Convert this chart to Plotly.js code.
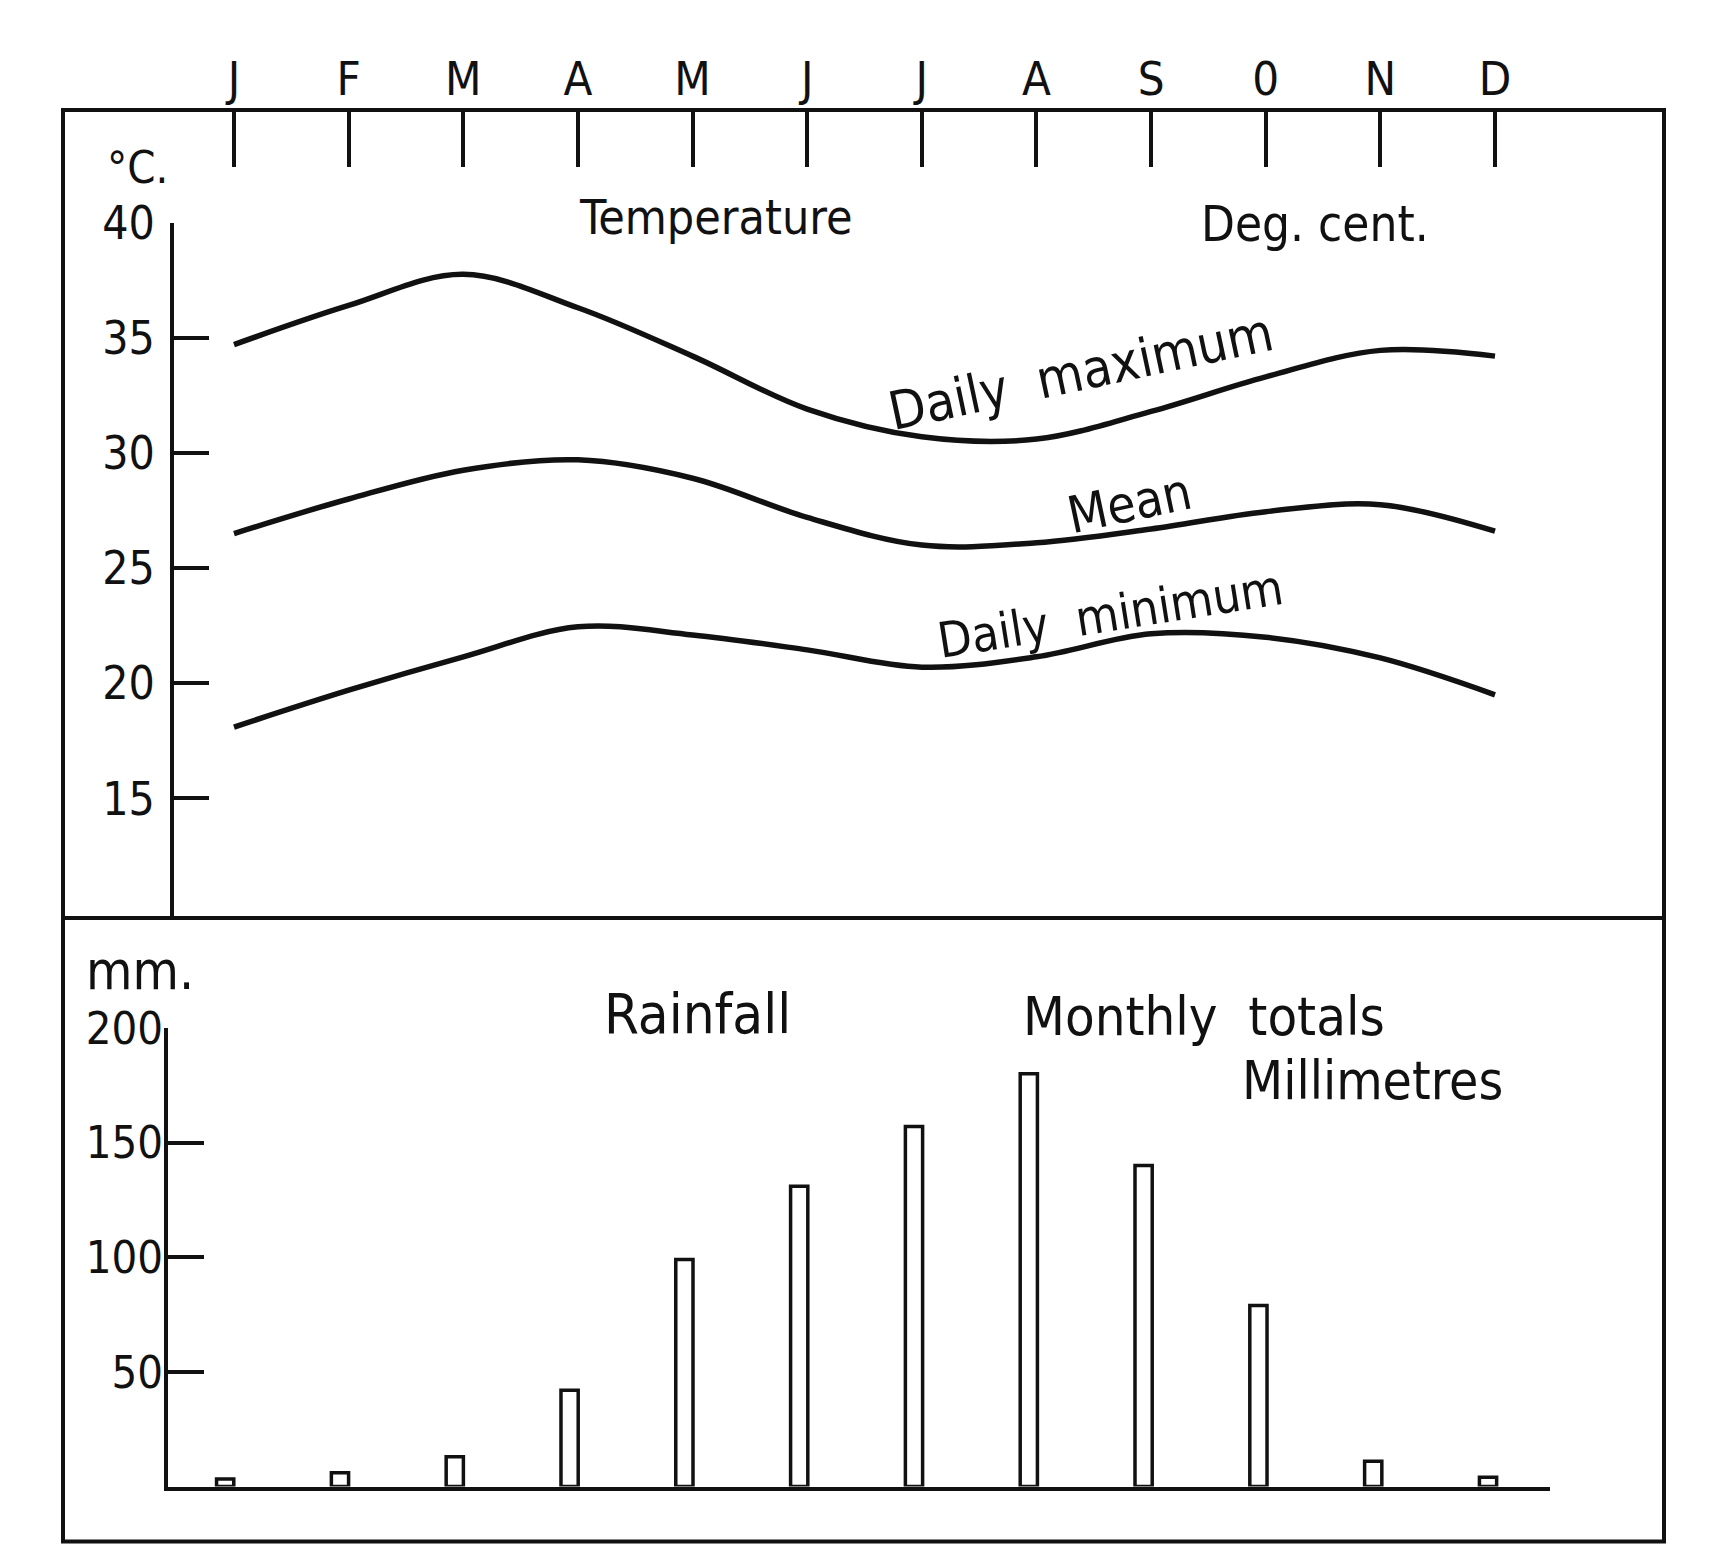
<!DOCTYPE html>
<html>
<head>
<meta charset="utf-8">
<script src="https://cdn.plot.ly/plotly-3.0.1.min.js"></script>
<style>
  html, body { margin: 0; padding: 0; background: #ffffff; }
  #chart { width: 1724px; height: 1557px; }
</style>
</head>
<body>
<div id="chart"></div>
<script>
// ---- Data ----
const months = ["J", "F", "M", "A", "M", "J", "J", "A", "S", "0", "N", "D"];
const monthIndex = [0, 1, 2, 3, 4, 5, 6, 7, 8, 9, 10, 11];
const dailyMaximum = [34.7, 36.4, 37.75, 36.3, 34.2, 31.9, 30.7, 30.6, 31.8, 33.3, 34.45, 34.2];
const meanTemp     = [26.5, 28.0, 29.25, 29.7, 28.9, 27.2, 26.0, 26.1, 26.7, 27.45, 27.75, 26.6];
const dailyMinimum = [18.1, 19.7, 21.15, 22.45, 22.1, 21.45, 20.7, 21.15, 22.15, 22.0, 21.1, 19.5];
const rainfallMm   = [3.3, 6, 13, 42, 99, 131, 157, 180, 140, 79, 11, 4];
const tempTicks = [15, 20, 25, 30, 35, 40];
const rainTicks = [50, 100, 150, 200];

// ---- Geometry helpers (pixel -> paper) ----
const W = 1724, H = 1557;
const px = v => v / W;
const py = v => 1 - v / H;
const FONT = "Liberation Sans Narrow, DejaVu Sans Condensed, Liberation Sans, sans-serif";
const INK = "#111111";

const lineStyle = {color: INK, width: 5.5, shape: "spline", smoothing: 1};

const traces = [
  {x: monthIndex, y: dailyMaximum, xaxis: "x", yaxis: "y", mode: "lines", line: lineStyle, name: "Daily maximum", hoverinfo: "skip"},
  {x: monthIndex, y: meanTemp, xaxis: "x", yaxis: "y", mode: "lines", line: lineStyle, name: "Mean", hoverinfo: "skip"},
  {x: monthIndex, y: dailyMinimum, xaxis: "x", yaxis: "y", mode: "lines", line: lineStyle, name: "Daily minimum", hoverinfo: "skip"},
  {x: monthIndex, y: rainfallMm, xaxis: "x2", yaxis: "y2", type: "bar", width: 0.15, offset: -0.135,
   marker: {color: "#ffffff", line: {color: INK, width: 3.5}}, name: "Rainfall", hoverinfo: "skip"}
];

const ann = (text, x, y, size, extra) => Object.assign({
  text: text, x: x, y: y, xref: "paper", yref: "paper", showarrow: false,
  xanchor: "center", yanchor: "middle", font: {family: FONT, size: size, color: INK}
}, extra || {});

const layout = {
  width: W, height: H,
  margin: {l: 0, r: 0, t: 0, b: 0},
  paper_bgcolor: "#ffffff", plot_bgcolor: "rgba(0,0,0,0)",
  showlegend: false,
  font: {family: FONT, color: INK},
  xaxis: {
    domain: [px(63), px(1664)], range: [-1.4917, 12.4742],
    anchor: "free", position: py(110), side: "top",
    tickmode: "array", tickvals: monthIndex, ticktext: months,
    ticks: "inside", ticklen: 56, tickwidth: 4, tickcolor: INK,
    ticklabelstandoff: 6,
    tickfont: {family: FONT, size: 47, color: INK},
    showline: false, showgrid: false, zeroline: false, fixedrange: true
  },
  yaxis: {
    domain: [py(918), py(222.5)], range: [9.813, 40],
    anchor: "free", position: px(172), side: "left",
    tickmode: "array", tickvals: tempTicks,
    ticks: "inside", ticklen: 35, tickwidth: 4, tickcolor: INK,
    ticklabelstandoff: 6,
    tickfont: {family: FONT, size: 46, color: INK},
    showline: true, linecolor: INK, linewidth: 4,
    showgrid: false, zeroline: false, fixedrange: true
  },
  xaxis2: {
    domain: [px(168), px(1550)], range: [-0.558, 11.4798],
    anchor: "y2", showticklabels: false, ticks: "",
    showline: true, linecolor: INK, linewidth: 4,
    showgrid: false, zeroline: false, fixedrange: true
  },
  yaxis2: {
    domain: [py(1486.5), py(1028)], range: [0, 200],
    anchor: "x2", side: "left",
    tickmode: "array", tickvals: rainTicks,
    ticks: "inside", ticklen: 36, tickwidth: 4, tickcolor: INK,
    ticklabelstandoff: -8,
    tickfont: {family: FONT, size: 45, color: INK},
    showline: true, linecolor: INK, linewidth: 4,
    showgrid: false, zeroline: false, fixedrange: true
  },
  shapes: [
    {type: "rect", xref: "paper", yref: "paper", x0: px(63), x1: px(1664), y0: py(1541.5), y1: py(110),
     line: {color: INK, width: 4}},
    {type: "line", xref: "paper", yref: "paper", x0: px(63), x1: px(1664), y0: py(918), y1: py(918),
     line: {color: INK, width: 4}}
  ],
  annotations: [
    ann("°C.", px(137), py(168), 45),
    ann("Temperature", px(716), py(217), 48),
    ann("Deg. cent.", px(1315), py(225), 49),
    ann("mm.", px(140), py(970), 53),
    ann("Rainfall", px(697), py(1013), 56),
    ann("Monthly\u00a0\u00a0totals", px(1204), py(1017), 54),
    ann("Millimetres", px(1372), py(1080), 53),
    {text: "Daily\u00a0\u00a0maximum", x: 7.387, y: 33.55, xref: "x", yref: "y", showarrow: false,
     xanchor: "center", yanchor: "middle", textangle: -12, font: {family: FONT, size: 53, color: INK}},
    {text: "Mean", x: 7.81, y: 27.8, xref: "x", yref: "y", showarrow: false,
     xanchor: "center", yanchor: "middle", textangle: -12, font: {family: FONT, size: 51, color: INK}},
    {text: "Daily\u00a0\u00a0minimum", x: 7.644, y: 23.0, xref: "x", yref: "y", showarrow: false,
     xanchor: "center", yanchor: "middle", textangle: -9, font: {family: FONT, size: 49, color: INK}}
  ]
};

Plotly.newPlot("chart", traces, layout, {displayModeBar: false, staticPlot: true});
</script>
</body>
</html>
